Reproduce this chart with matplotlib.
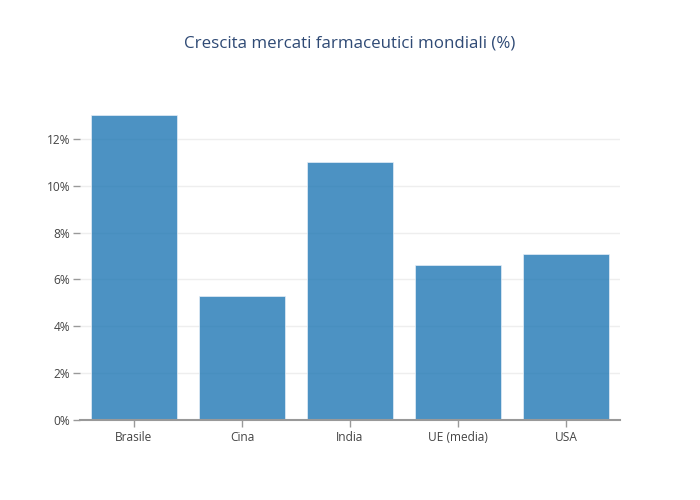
import matplotlib
matplotlib.use("Agg")
import matplotlib.pyplot as plt
from matplotlib.ticker import FuncFormatter

categories = ["Brasile", "Cina", "India", "UE (media)", "USA"]
values = [13.0, 5.3, 11.0, 6.6, 7.1]
yticks = [0, 2, 4, 6, 8, 10, 12]

plt.rcParams['font.family'] = ['Open Sans', 'DejaVu Sans']

fig = plt.figure(figsize=(7, 5), dpi=100)
ax = fig.add_axes([80/700, 80/500, 540/700, 320/500])

x = range(len(categories))
ax.bar(x, values, width=0.8, color='#1f77b4', alpha=0.8,
       edgecolor='#e8f0f8', linewidth=0.6, zorder=3)

ax.set_xlim(-0.5, len(categories) - 0.5)
ax.set_ylim(0, 13.66)
ax.set_yticks(yticks)
ax.yaxis.set_major_formatter(FuncFormatter(lambda v, p: f"{int(v)}%"))
ax.set_xticks(list(x))
ax.set_xticklabels(categories)

ax.grid(axis='y', color='#eeeeee', linewidth=1, zorder=0)
for s in ['top', 'right', 'left']:
    ax.spines[s].set_visible(False)
ax.spines['bottom'].set_color('#999999')
ax.spines['bottom'].set_linewidth(1.5)
ax.spines['bottom'].set_zorder(4)

ax.tick_params(axis='y', length=5, width=1, color='#999999', labelcolor='#444444',
               labelsize=8.6, pad=2)
ax.tick_params(axis='x', length=5, width=1, color='#999999', labelcolor='#444444',
               labelsize=8.6, pad=3)

fig.text(350/700, 1 - 44/500, "Crescita mercati farmaceutici mondiali (%)",
         ha='center', va='center', fontsize=12.2, color='#2f4a75')

fig.savefig("out.png", dpi=100)
